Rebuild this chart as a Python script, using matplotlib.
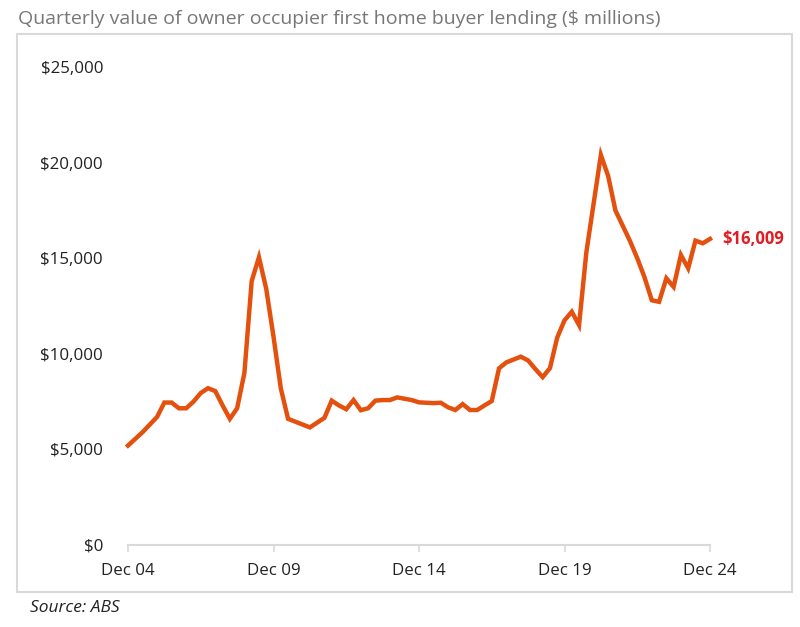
import numpy as np
import matplotlib.pyplot as plt
from matplotlib.patches import Rectangle

# quarterly value, Dec 04 .. Dec 24 ($ millions)
lending = [
    5200, 5550, 5900, 6300, 6700, 7450, 7450, 7150, 7150, 7500,
    7950, 8200, 8050, 7300, 6600, 7150, 9000, 13800, 15050, 13400,
    10900, 8200, 6600, 6450, 6300, 6150, 6400, 6650, 7550, 7300,
    7100, 7580, 7050, 7150, 7550, 7580, 7580, 7720, 7650, 7580,
    7460, 7440, 7420, 7440, 7200, 7060, 7370, 7060, 7060, 7300,
    7530, 9240, 9550, 9700, 9850, 9650, 9200, 8780, 9250, 10850,
    11750, 12200, 11500, 15300, 17850, 20400, 19300, 17500, 16700, 15900,
    15000, 14000, 12800, 12720, 13950, 13500, 15170, 14470, 15920, 15780,
    16009,
]
tick_labels = ["Dec 04", "Dec 09", "Dec 14", "Dec 19", "Dec 24"]
y_ticks = [0, 5000, 10000, 15000, 20000, 25000]

plt.rcParams['font.family'] = ['Open Sans', 'DejaVu Sans']

fig = plt.figure(figsize=(8, 6.27), dpi=100)
ax = fig.add_axes([0.16, 0.1308, 0.7275, 0.7623])

x = np.arange(len(lending))
ax.plot(x, lending, color='#E4500E', lw=3.2, solid_joinstyle='miter', clip_on=False)

ax.set_xlim(0, len(lending) - 1)
ax.set_ylim(0, 25000)
ax.set_xticks(np.arange(0, len(lending), 20))
ax.set_xticklabels(tick_labels)
ax.set_yticks(y_ticks)
ax.set_yticklabels(['${:,}'.format(v) for v in y_ticks])

for s in ['top', 'right', 'left']:
    ax.spines[s].set_visible(False)
ax.spines['bottom'].set_color('#d9d9d9')
ax.spines['bottom'].set_linewidth(1.5)
ax.tick_params(axis='y', length=0, pad=18, labelsize=12.2, labelcolor='#222222')
ax.tick_params(axis='x', length=5, width=1.2, color='#d9d9d9', pad=8,
               labelsize=12.2, labelcolor='#222222')

ax.annotate('${:,}'.format(lending[-1]), xy=(x[-1], lending[-1]),
            xytext=(9, 0), textcoords='offset points', va='center', ha='left',
            color='#E31B23', fontsize=12, fontweight='bold', annotation_clip=False)

# frame around the chart
fig.patches.append(Rectangle((0.02125, 0.0558), 0.96875, 0.89, transform=fig.transFigure,
                             fill=False, edgecolor='#d9d9d9', lw=1.5))

fig.text(0.022, 0.955, 'Quarterly value of owner occupier first home buyer lending ($ millions)',
         color='#777777', fontsize=14.0, va='bottom', ha='left')
fig.text(0.037, 0.03, 'Source: ABS', fontsize=12.5, style='italic', color='#222222',
         va='center', ha='left')

fig.savefig('out.png', dpi=100)
